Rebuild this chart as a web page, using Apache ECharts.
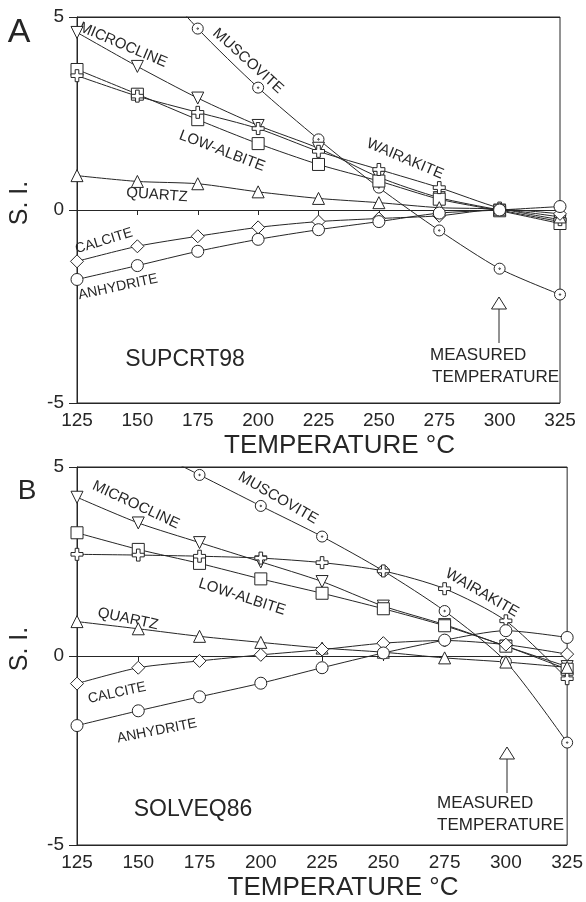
<!DOCTYPE html>
<html>
<head>
<meta charset="utf-8">
<script src="https://cdn.jsdelivr.net/npm/echarts@6/dist/echarts.min.js"></script>
<style>
  html, body { margin: 0; padding: 0; background: #fff; }
  #main { width: 586px; height: 902px; }
</style>
</head>
<body>
<div id="main"></div>
<script>
// temperature steps (°C)
var temps = [125, 150, 175, 200, 225, 250, 275, 300, 325];
var yTicks = [-5, 0, 5];

// A : SUPCRT98
var muscoviteA  = [8.5, 6.5, 4.70, 3.17, 1.83, 0.58, -0.53, -1.52, -2.19];
var microclineA = [4.60, 3.72, 2.90, 2.19, 1.60, 0.85, 0.32, 0.00, -0.30];
var lowAlbiteA  = [3.64, 3.00, 2.34, 1.72, 1.18, 0.75, 0.28, -0.02, -0.35];
var wairakiteA  = [3.48, 2.95, 2.53, 2.11, 1.52, 1.05, 0.58, 0.05, -0.25];
var quartzA     = [0.89, 0.74, 0.68, 0.47, 0.30, 0.19, 0.06, 0.02, -0.18];
var calciteA    = [-1.33, -0.94, -0.68, -0.45, -0.30, -0.22, -0.15, 0.02, -0.10];
var anhydriteA  = [-1.80, -1.44, -1.07, -0.76, -0.51, -0.30, -0.08, 0.00, 0.09];

// B : SOLVEQ86
var muscoviteB  = [6.4, 5.6, 4.79, 3.97, 3.16, 2.25, 1.19, -0.15, -2.29];
var microclineB = [4.20, 3.52, 3.00, 2.49, 1.97, 1.32, 0.83, 0.26, -0.28];
var lowAlbiteB  = [3.26, 2.82, 2.45, 2.04, 1.66, 1.25, 0.80, 0.26, -0.35];
var wairakiteB  = [2.69, 2.67, 2.64, 2.59, 2.47, 2.25, 1.78, 0.93, -0.60];
var quartzB     = [0.91, 0.72, 0.52, 0.36, 0.21, 0.10, -0.05, -0.16, -0.30];
var calciteB    = [-0.73, -0.31, -0.13, 0.03, 0.17, 0.34, 0.41, 0.30, 0.05];
var anhydriteB  = [-1.84, -1.45, -1.08, -0.72, -0.31, 0.08, 0.42, 0.67, 0.49];

var ink = '#262626';
var font = 'Liberation Sans, Arial, sans-serif';

// marker shapes
var dotCircle = 'path://M0,-10A10,10 0 1 1 0,10A10,10 0 1 1 0,-10ZM0,-1.3A1.3,1.3 0 1 1 0,1.3A1.3,1.3 0 1 1 0,-1.3Z';
var plusSign = 'path://M-3,-10H3V-3H10V3H3V10H-3V3H-10V-3H-3Z';

var minerals = [
  { name: 'MUSCOVITE',  a: muscoviteA,  b: muscoviteB,  symbol: dotCircle, size: 11, rot: 0 },
  { name: 'MICROCLINE', a: microclineA, b: microclineB, symbol: 'triangle', size: 12, rot: 180 },
  { name: 'LOW-ALBITE', a: lowAlbiteA,  b: lowAlbiteB,  symbol: 'rect', size: 12, rot: 0 },
  { name: 'WAIRAKITE',  a: wairakiteA,  b: wairakiteB,  symbol: plusSign, size: 12, rot: 0 },
  { name: 'QUARTZ',     a: quartzA,     b: quartzB,     symbol: 'triangle', size: 12, rot: 0 },
  { name: 'CALCITE',    a: calciteA,    b: calciteB,    symbol: 'diamond', size: 13, rot: 0 },
  { name: 'ANHYDRITE',  a: anhydriteA,  b: anhydriteB,  symbol: 'circle', size: 12, rot: 0 }
];

function pairs(vals) {
  return temps.map(function (t, i) { return [t, vals[i]]; });
}

var series = [];
minerals.forEach(function (m) {
  [['a', 0], ['b', 1]].forEach(function (p) {
    series.push({
      name: m.name,
      type: 'line',
      xAxisIndex: p[1],
      yAxisIndex: p[1],
      data: pairs(m[p[0]]),
      smooth: 0.25,
      clip: true,
      symbol: m.symbol,
      symbolSize: m.size,
      symbolRotate: m.rot,
      showAllSymbol: true,
      lineStyle: { color: ink, width: 1 },
      itemStyle: { color: '#fff', borderColor: ink, borderWidth: 1 },
      emphasis: { disabled: true }
    });
  });
});

function xAxisFor(i) {
  return {
    type: 'value', gridIndex: i, min: 125, max: 325, interval: 25,
    name: 'TEMPERATURE °C', nameLocation: 'middle', nameGap: 30,
    nameTextStyle: { color: ink, fontSize: 26, fontFamily: font, padding: [0, 0, 0, 42] },
    axisLine: { lineStyle: { color: ink, width: 1 } },
    axisTick: { length: 5, lineStyle: { color: ink } },
    axisLabel: { color: ink, fontSize: 19, fontFamily: font, margin: 8 },
    splitLine: { show: false }
  };
}
function yAxisFor(i) {
  return {
    type: 'value', gridIndex: i, min: yTicks[0], max: yTicks[2], interval: 5,
    name: 'S. I.', nameLocation: 'middle', nameGap: 44, nameRotate: 90,
    nameTextStyle: { color: ink, fontSize: 25, fontFamily: font, padding: [0, 0, 0, 14] },
    axisLine: { lineStyle: { color: ink, width: 1 } },
    axisTick: { length: 8, lineStyle: { color: ink } },
    axisLabel: { color: ink, fontSize: 19, fontFamily: font, margin: 13 },
    splitLine: { show: true, lineStyle: { color: ink, width: 1 } }
  };
}

// deg > 0 : text tilted down to the right
function txt(s, x, y, deg, size, align) {
  return {
    type: 'text', x: x, y: y, rotation: -deg * Math.PI / 180, silent: true,
    style: {
      text: s, fill: ink, font: size + 'px ' + font,
      align: align || 'center', verticalAlign: 'middle',
      textAlign: align || 'center', textVerticalAlign: 'middle'
    }
  };
}
function arrow(x, yTop, yBottom) {
  return [
    { type: 'polygon', silent: true, shape: { points: [[x, yTop], [x - 7.5, yTop + 12], [x + 7.5, yTop + 12]] },
      style: { fill: '#fff', stroke: ink, lineWidth: 1 } },
    { type: 'line', silent: true, shape: { x1: x, y1: yTop + 12, x2: x, y2: yBottom },
      style: { stroke: ink, lineWidth: 1 } }
  ];
}

var labels = [
  txt('A', 19, 33, 0, 34),
  txt('MICROCLINE', 123, 45, 23, 15),
  txt('MUSCOVITE', 248, 61, 42, 15),
  txt('LOW-ALBITE', 222, 151, 21, 15),
  txt('QUARTZ', 157, 195, 4, 15),
  txt('WAIRAKITE', 405, 159, 23, 15),
  txt('CALCITE', 104, 241, -17, 14),
  txt('ANHYDRITE', 118, 287, -12, 14),
  txt('SUPCRT98', 185, 360, 0, 23),
  txt('MEASURED', 430, 355, 0, 17, 'left'),
  txt('TEMPERATURE', 432, 377, 0, 17, 'left'),

  txt('B', 27, 491, 0, 28),
  txt('MICROCLINE', 136, 505, 25, 15),
  txt('MUSCOVITE', 278, 498, 30, 15),
  txt('LOW-ALBITE', 242, 597, 18, 15),
  txt('QUARTZ', 128, 619, 12, 15),
  txt('WAIRAKITE', 482, 593, 30, 15),
  txt('CALCITE', 117, 693, -12, 14),
  txt('ANHYDRITE', 157, 731, -11, 14),
  txt('SOLVEQ86', 193, 810, 0, 23),
  txt('MEASURED', 437, 803, 0, 17, 'left'),
  txt('TEMPERATURE', 437, 825, 0, 17, 'left')
].concat(arrow(499, 297, 343)).concat(arrow(507, 747, 793));

var chart = echarts.init(document.getElementById('main'), null, { renderer: 'canvas' });
chart.setOption({
  animation: false,
  backgroundColor: '#fff',
  grid: [
    { left: 67, top: 17, width: 493, height: 386, show: true, borderColor: ink, borderWidth: 1, backgroundColor: 'transparent' },
    { left: 77, top: 467, width: 491, height: 386, show: true, borderColor: ink, borderWidth: 1, backgroundColor: 'transparent' }
  ],
  xAxis: [xAxisFor(0), xAxisFor(1)],
  yAxis: [yAxisFor(0), yAxisFor(1)],
  series: series,
  graphic: labels
});
</script>
</body>
</html>
